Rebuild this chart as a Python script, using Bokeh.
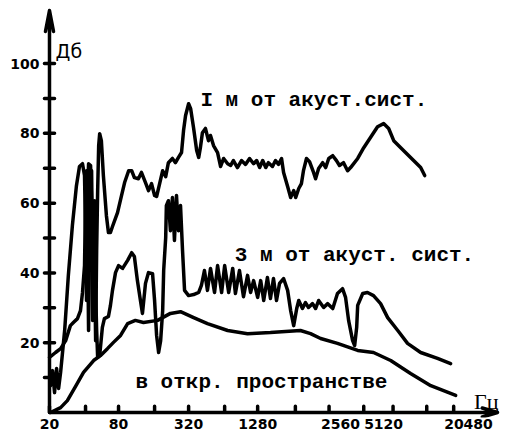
from bokeh.plotting import figure
from bokeh.models import FixedTicker, Label, Range1d, ColumnDataSource
from bokeh.embed import file_html
from bokeh.resources import INLINE

# x values: position in octaves above 20 Hz (as drawn); y values: level, dB
oct_1m = [0.03, 0.09, 0.15, 0.21, 0.27, 0.33, 0.45, 0.56, 0.68, 0.80, 0.89, 0.98, 1.04, 1.07, 1.10,
          1.13, 1.16, 1.22, 1.25, 1.28, 1.31, 1.34, 1.37, 1.40, 1.43, 1.46, 1.49, 1.54, 1.60, 1.69,
          1.75, 1.81, 1.87, 2.02, 2.14, 2.23, 2.35, 2.44, 2.52, 2.64, 2.73, 2.85, 2.94, 3.03, 3.12,
          3.18, 3.27, 3.36, 3.45, 3.53, 3.65, 3.74, 3.83, 3.92, 3.98, 4.04, 4.13, 4.19, 4.28, 4.37,
          4.43, 4.48, 4.54, 4.63, 4.72, 4.78, 4.87, 4.99, 5.08, 5.17, 5.29, 5.38, 5.46, 5.58, 5.70,
          5.82, 5.94, 6.06, 6.15, 6.24, 6.33, 6.42, 6.50, 6.62, 6.71, 6.80, 6.89, 6.95, 7.07, 7.16,
          7.25, 7.31, 7.40, 7.48, 7.54, 7.63, 7.72, 7.84, 7.90, 7.99, 8.11, 8.20, 8.29, 8.41, 8.52,
          8.61, 8.73, 8.85, 8.94, 9.15, 9.33, 9.53, 9.74, 9.92, 10.07, 10.22, 10.51, 10.81, 11.02, 11.14]
db_1m = [7.7, 12.0, 5.7, 12.6, 6.9, 11.5, 23.5, 39.3, 53.6, 65.0, 70.5, 71.3, 67.9, 52.1, 32.1,
         63.6, 71.3, 70.8, 60.7, 26.4, 52.1, 40.7, 20.6, 46.4, 63.6, 76.5, 79.9, 77.9, 67.9, 56.4,
         51.6, 51.6, 53.3, 57.3, 62.2, 65.9, 69.3, 69.3, 67.3, 67.0, 68.8, 65.9, 63.6, 65.6, 62.2,
         61.9, 65.6, 69.3, 67.6, 71.6, 72.8, 71.6, 73.1, 74.5, 80.8, 85.1, 88.5, 87.1, 81.4, 75.1,
         73.1, 75.9, 80.2, 81.4, 77.9, 79.4, 76.5, 74.5, 70.5, 72.8, 71.3, 70.8, 72.2, 70.2, 72.2,
         71.1, 72.8, 71.3, 72.2, 70.2, 72.2, 70.2, 71.6, 70.5, 72.2, 71.1, 72.8, 68.8, 64.8, 61.6,
         63.6, 61.6, 64.2, 65.6, 69.3, 72.8, 71.9, 68.8, 67.0, 69.9, 71.6, 70.2, 72.8, 73.6, 72.2,
         70.8, 71.6, 69.3, 70.2, 72.8, 75.9, 78.8, 81.9, 82.8, 81.4, 77.9, 75.1, 72.2, 70.2, 67.9]

oct_3m = [0.00, 0.18, 0.33, 0.48, 0.62, 0.71, 0.83, 0.92, 0.98, 1.04, 1.07, 1.10, 1.13, 1.16, 1.19,
          1.22, 1.25, 1.28, 1.31, 1.34, 1.37, 1.40, 1.43, 1.49, 1.57, 1.63, 1.75, 1.81, 1.87, 1.96,
          2.05, 2.17, 2.32, 2.44, 2.52, 2.61, 2.70, 2.76, 2.85, 2.94, 3.06, 3.12, 3.18, 3.24, 3.30,
          3.36, 3.39, 3.45, 3.47, 3.53, 3.59, 3.65, 3.71, 3.77, 3.83, 3.89, 3.95, 4.01, 4.13, 4.28,
          4.43, 4.51, 4.60, 4.69, 4.78, 4.90, 4.99, 5.11, 5.20, 5.32, 5.44, 5.52, 5.64, 5.76, 5.88,
          5.97, 6.06, 6.18, 6.27, 6.36, 6.47, 6.56, 6.65, 6.74, 6.83, 6.95, 7.07, 7.16, 7.25, 7.34,
          7.40, 7.51, 7.60, 7.69, 7.81, 7.90, 7.99, 8.14, 8.26, 8.41, 8.55, 8.70, 8.79, 8.88, 9.00,
          9.06, 9.12, 9.15, 9.30, 9.44, 9.62, 9.83, 10.04, 10.34, 10.63, 11.02, 11.52, 11.91]
db_3m = [15.8, 17.2, 18.3, 20.6, 24.9, 25.8, 26.9, 29.2, 34.4, 42.1, 60.7, 69.3, 52.1, 23.5, 49.3,
         67.9, 69.3, 43.6, 32.1, 60.7, 35.0, 23.5, 15.8, 16.3, 24.4, 26.9, 27.5, 30.7, 35.0, 40.1,
         42.1, 41.3, 43.6, 45.8, 44.7, 37.8, 32.1, 28.4, 37.0, 40.1, 39.8, 32.1, 22.1, 17.2, 20.6,
         29.2, 40.7, 50.1, 59.3, 60.7, 52.1, 61.6, 49.3, 62.2, 52.1, 59.3, 46.4, 35.0, 33.5, 33.8,
         34.4, 36.4, 40.7, 35.0, 41.3, 34.4, 42.1, 34.4, 42.1, 34.4, 41.3, 34.1, 40.7, 33.2, 39.3,
         34.4, 37.8, 33.0, 37.8, 32.1, 38.7, 32.7, 38.4, 32.1, 37.0, 38.4, 35.0, 29.2, 24.9, 29.8,
         32.1, 29.8, 31.5, 30.1, 31.2, 29.8, 32.1, 30.1, 31.2, 29.8, 34.1, 35.5, 33.0, 26.4, 20.6,
         19.2, 24.4, 30.7, 34.1, 34.4, 33.5, 31.2, 27.2, 23.5, 19.8, 17.2, 15.5, 14.0]

oct_open = [0.03, 0.33, 0.53, 0.77, 1.01, 1.31, 1.51, 1.72, 1.90, 2.11, 2.32, 2.55, 2.79, 3.21, 3.59,
            3.89, 4.28, 4.69, 5.29, 5.88, 6.56, 7.45, 7.75, 8.05, 8.55, 9.15, 9.62, 10.13, 10.72,
            11.32, 12.06]
db_open = [0.0, 1.4, 3.4, 7.4, 11.5, 14.9, 16.3, 18.3, 20.1, 22.1, 25.5, 26.4, 25.8, 26.4, 28.4,
           28.9, 27.2, 25.5, 23.5, 22.6, 22.9, 23.5, 22.6, 21.2, 19.8, 17.8, 17.2, 14.9, 11.2,
           7.7, 4.9]

x_tick_marks = [0, 1.07, 2.05, 3.12, 4.13, 5.2, 6.18, 7.3, 8.3, 9.33, 10.2, 11.2, 12.0]
x_label_pos = [0, 2.05, 4.13, 6.18, 8.64, 9.92, 12.44]
x_labels = ["20", "80", "320", "1280", "2560", "5120", "20480"]
y_label_pos = [20, 40, 60, 80, 100]
y_tick_marks = [10, 20, 30, 40, 50, 60, 70, 80, 90, 100]

X_AXIS_END = 13.3    # tip of the frequency arrow
Y_AXIS_END = 115.2   # tip of the level arrow
X_START, X_END = -0.267, 13.39
Y_START, Y_END = -1.43, 117.5
Y_TICK_HALF = 0.15   # half tick length across the level axis (data units)
X_TICK_LEN = 1.8     # tick length above the frequency axis (data units)

p = figure(width=500, height=433, output_backend="svg", toolbar_location=None,
           x_range=Range1d(X_START, X_END), y_range=Range1d(Y_START, Y_END),
           min_border_left=40, min_border_right=0, min_border_top=2, min_border_bottom=16)
p.outline_line_color = None
p.xgrid.visible = False
p.ygrid.visible = False

# Bokeh axes carry the tick labels; axis rules, ticks and arrows are drawn as polylines
for ax, pos, labs in [(p.xaxis[0], x_label_pos, x_labels),
                      (p.yaxis[0], y_label_pos, [str(v) for v in y_label_pos])]:
    ax.ticker = FixedTicker(ticks=pos)
    ax.major_label_overrides = {q: s for q, s in zip(pos, labs)}
    ax.axis_line_color = None
    ax.major_tick_line_color = None
    ax.minor_tick_line_color = None
    ax.major_tick_in = 0
    ax.major_tick_out = 0
    ax.major_label_text_font = "DejaVu Sans"
    ax.major_label_text_font_style = "bold"
    ax.major_label_text_font_size = "14px"
    ax.major_label_text_color = "black"
p.xaxis[0].major_label_standoff = 1
p.yaxis[0].major_label_standoff = 1

# level axis: rule with crossing ticks, ending in an arrow
ay_x, ay_y = [0.0], [0.0]
for t in y_tick_marks:
    ay_x += [0.0, -Y_TICK_HALF, Y_TICK_HALF, 0.0]
    ay_y += [t, t, t, t]
ay_x += [0.0, -0.12, 0.0, 0.12]
ay_y += [Y_AXIS_END, Y_AXIS_END - 6, Y_AXIS_END, Y_AXIS_END - 6]

# frequency axis: rule with upward ticks, ending in an arrow
ax_x, ax_y = [0.0], [0.0]
for t in x_tick_marks:
    ax_x += [t, t, t]
    ax_y += [0.0, X_TICK_LEN, 0.0]
ax_x += [X_AXIS_END, X_AXIS_END - 0.45, X_AXIS_END, X_AXIS_END - 0.45]
ax_y += [0.0, 1.3, 0.0, -1.3]

# all strokes in one multi-line renderer, so they share the same styling
src = ColumnDataSource(dict(xs=[oct_1m, oct_3m, oct_open, ay_x, ax_x],
                            ys=[db_1m, db_3m, db_open, ay_y, ax_y]))
p.multi_line(xs="xs", ys="ys", source=src, line_color="black", line_width=3.5,
             line_join="round", line_cap="round")

txt = dict(text_font="Liberation Mono", text_font_size="21px", text_font_style="bold",
           text_color="black", text_baseline="alphabetic")
p.add_layout(Label(x=4.48, y=89.3, text="I м от акуст.сист.", **txt))
p.add_layout(Label(x=5.5, y=45.0, text="3 м от акуст. сист.", **txt))
p.add_layout(Label(x=2.55, y=8.6, text="в откр. пространстве", **txt))

p.add_layout(Label(x=0.18, y=103.5, text="Дб", text_font="DejaVu Sans", text_font_size="19px",
                   text_color="black", text_baseline="alphabetic"))
p.add_layout(Label(x=13.33, y=3.2, text="Гц", text_font="Liberation Serif", text_font_size="22px",
                   text_color="black", text_baseline="alphabetic", text_align="right"))

open("out.html", "w").write(file_html(p, INLINE, "chart"))
